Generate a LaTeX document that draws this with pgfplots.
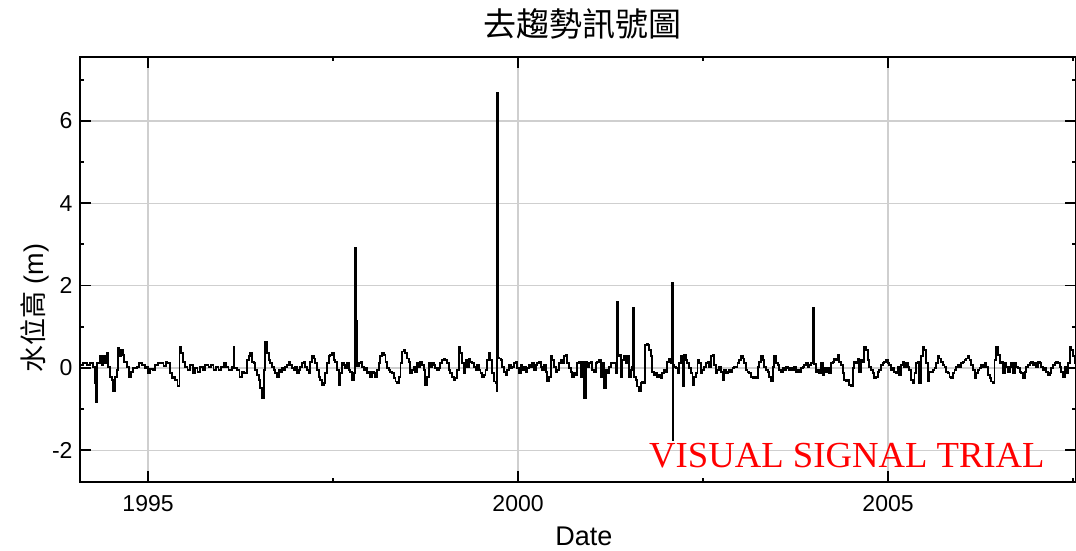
\documentclass[border=0pt]{standalone}
\usepackage{pgfplots}
\pgfplotsset{compat=1.18}
\usepackage{pgfplotstable}
\usepackage{fontspec}
\setmainfont{Liberation Sans}
\newfontfamily\cjk{Noto Sans CJK TC}
\newfontfamily\wmfont{Liberation Serif}
\pgfplotstableread{
t v
1994.080 0.07
1994.125 0.11
1994.170 0.07
1994.215 0.13
1994.260 0.02
1994.288 -0.37
1994.297 -0.82
1994.315 0.11
1994.351 0.28
1994.373 0.07
1994.396 0.28
1994.418 0.11
1994.441 0.37
1994.463 0.03
1994.486 -0.21
1994.509 -0.29
1994.531 -0.57
1994.554 -0.21
1994.576 -0.05
1994.590 0.48
1994.612 0.28
1994.630 0.44
1994.657 0.32
1994.675 0.15
1994.712 0.03
1994.743 -0.21
1994.766 -0.09
1994.802 -0.01
1994.847 0.03
1994.883 0.11
1994.915 0.07
1994.960 -0.01
1994.982 0.03
1995.005 -0.13
1995.027 -0.03
1995.063 -0.05
1995.095 0.07
1995.140 0.11
1995.172 0.13
1995.208 0.05
1995.244 0.15
1995.262 0.11
1995.298 -0.13
1995.321 -0.25
1995.343 -0.21
1995.366 -0.29
1995.397 -0.44
1995.424 0.52
1995.447 0.36
1995.469 0.15
1995.501 0.03
1995.533 -0.05
1995.569 0.07
1995.605 -0.13
1995.636 -0.01
1995.668 -0.09
1995.704 0.03
1995.740 -0.05
1995.772 0.07
1995.817 0.03
1995.853 0.07
1995.884 -0.05
1995.920 0.03
1995.952 -0.05
1995.984 0.03
1996.020 0.11
1996.056 0.03
1996.087 -0.05
1996.133 0.03
1996.155 0.52
1996.162 0.00
1996.169 -0.01
1996.200 -0.05
1996.236 -0.21
1996.268 -0.09
1996.299 -0.13
1996.313 -0.13
1996.336 0.19
1996.358 0.28
1996.381 0.36
1996.403 0.15
1996.426 0.11
1996.448 -0.05
1996.471 -0.17
1996.493 -0.29
1996.516 -0.49
1996.539 -0.74
1996.561 -0.05
1996.584 0.64
1996.606 0.36
1996.629 0.19
1996.651 0.11
1996.674 0.03
1996.697 -0.05
1996.719 -0.13
1996.742 -0.21
1996.764 -0.05
1996.787 -0.09
1996.809 -0.01
1996.832 -0.05
1996.854 0.03
1996.877 0.07
1996.900 0.15
1996.922 0.07
1996.945 -0.01
1996.967 -0.05
1996.990 0.03
1997.012 -0.13
1997.035 -0.05
1997.057 0.03
1997.080 0.11
1997.103 0.15
1997.125 0.03
1997.148 -0.05
1997.170 -0.13
1997.193 0.15
1997.215 0.28
1997.238 0.23
1997.260 0.11
1997.283 -0.05
1997.306 -0.21
1997.328 -0.29
1997.351 -0.41
1997.373 -0.37
1997.396 -0.13
1997.418 0.11
1997.441 0.28
1997.464 0.32
1997.486 0.36
1997.509 0.19
1997.531 0.15
1997.554 -0.05
1997.576 -0.41
1997.599 -0.13
1997.621 0.11
1997.644 0.07
1997.667 -0.01
1997.689 0.11
1997.712 -0.05
1997.734 -0.09
1997.757 -0.29
1997.779 -0.13
1997.796 2.91
1997.806 0.05
1997.818 1.14
1997.826 0.05
1997.847 0.11
1997.870 0.15
1997.892 0.03
1997.915 -0.05
1997.937 -0.01
1997.960 -0.13
1997.982 -0.09
1998.005 -0.21
1998.027 -0.09
1998.050 -0.13
1998.072 -0.21
1998.095 -0.05
1998.118 0.11
1998.140 0.28
1998.163 0.36
1998.185 0.32
1998.208 0.15
1998.230 -0.01
1998.253 -0.05
1998.275 -0.09
1998.298 -0.13
1998.321 -0.25
1998.343 -0.33
1998.366 -0.37
1998.388 -0.21
1998.411 0.11
1998.433 0.40
1998.456 0.44
1998.478 0.36
1998.501 0.23
1998.524 0.15
1998.545 -0.13
1998.568 -0.05
1998.590 0.03
1998.613 -0.09
1998.635 0.11
1998.658 0.03
1998.680 0.15
1998.703 0.07
1998.725 -0.05
1998.748 -0.41
1998.771 -0.21
1998.793 0.11
1998.816 0.03
1998.838 0.11
1998.861 0.07
1998.883 -0.01
1998.906 -0.05
1998.929 -0.01
1998.951 0.11
1998.974 0.19
1998.996 0.23
1999.019 0.19
1999.041 0.11
1999.064 -0.05
1999.086 -0.13
1999.109 -0.21
1999.132 -0.29
1999.154 -0.25
1999.177 -0.05
1999.199 0.52
1999.222 0.36
1999.244 0.11
1999.267 -0.13
1999.289 0.19
1999.312 0.03
1999.335 0.23
1999.357 0.15
1999.380 0.11
1999.402 0.03
1999.425 -0.05
1999.447 0.07
1999.470 -0.05
1999.493 -0.13
1999.515 -0.21
1999.538 -0.17
1999.560 -0.05
1999.583 0.19
1999.605 0.36
1999.628 0.19
1999.650 -0.13
1999.673 -0.33
1999.696 -0.37
1999.712 -0.55
1999.720 6.68
1999.730 0.25
1999.741 0.23
1999.764 0.19
1999.786 0.03
1999.809 -0.09
1999.831 -0.17
1999.854 -0.05
1999.876 0.07
1999.899 -0.01
1999.921 0.03
1999.944 0.11
1999.967 0.15
1999.989 -0.01
2000.012 -0.13
2000.034 0.07
2000.057 -0.05
2000.079 0.03
2000.102 -0.09
2000.124 -0.01
2000.147 0.07
2000.169 0.03
2000.192 0.11
2000.215 -0.05
2000.237 0.07
2000.260 0.11
2000.282 0.15
2000.305 0.03
2000.327 -0.05
2000.350 0.07
2000.373 -0.09
2000.395 -0.33
2000.418 -0.21
2000.440 0.28
2000.463 0.19
2000.485 0.03
2000.508 -0.09
2000.530 -0.05
2000.553 0.11
2000.576 0.19
2000.598 0.11
2000.621 0.28
2000.643 0.32
2000.666 0.11
2000.688 -0.01
2000.711 -0.09
2000.733 -0.21
2000.756 -0.13
2000.778 -0.17
2000.801 0.11
2000.823 0.15
2000.846 -0.21
2000.868 0.15
2000.891 -0.74
2000.913 0.15
2000.936 0.03
2000.958 0.11
2000.981 0.15
2001.004 -0.05
2001.026 -0.09
2001.049 0.11
2001.071 0.15
2001.094 0.19
2001.116 -0.21
2001.139 0.11
2001.161 -0.49
2001.184 -0.05
2001.207 -0.13
2001.229 0.03
2001.252 0.11
2001.274 0.13
2001.297 0.11
2001.319 -0.13
2001.338 1.60
2001.346 0.28
2001.364 0.32
2001.387 -0.21
2001.409 0.19
2001.432 0.28
2001.455 0.11
2001.477 0.28
2001.500 -0.21
2001.522 -0.05
2001.545 0.03
2001.554 1.46
2001.563 -0.21
2001.590 -0.29
2001.612 -0.45
2001.635 -0.57
2001.657 -0.37
2001.680 -0.33
2001.703 -0.37
2001.717 0.56
2001.735 0.58
2001.752 0.56
2001.770 0.44
2001.793 0.28
2001.815 -0.09
2001.838 -0.17
2001.861 -0.13
2001.883 -0.21
2001.906 -0.17
2001.928 -0.25
2001.951 -0.13
2001.973 -0.05
2001.996 -0.09
2002.018 0.15
2002.041 0.23
2002.064 0.11
2002.080 2.06
2002.088 -1.75
2002.096 0.07
2002.109 0.03
2002.131 -0.01
2002.154 -0.13
2002.177 0.11
2002.199 0.28
2002.222 -0.45
2002.244 0.32
2002.267 0.19
2002.289 0.11
2002.312 -0.01
2002.334 -0.13
2002.357 -0.41
2002.380 -0.21
2002.402 -0.13
2002.425 0.19
2002.447 0.11
2002.470 -0.13
2002.492 -0.05
2002.515 0.03
2002.537 0.11
2002.560 0.15
2002.583 0.03
2002.605 0.28
2002.628 0.32
2002.650 0.07
2002.673 -0.13
2002.695 -0.05
2002.718 0.03
2002.740 -0.09
2002.763 -0.29
2002.786 -0.05
2002.808 -0.13
2002.831 -0.09
2002.853 -0.05
2002.876 -0.09
2002.898 -0.01
2002.921 0.03
2002.943 0.03
2002.966 0.11
2002.988 0.19
2003.011 0.28
2003.034 0.23
2003.056 0.11
2003.079 -0.05
2003.101 -0.09
2003.124 -0.13
2003.146 -0.21
2003.169 -0.25
2003.191 -0.21
2003.214 -0.25
2003.237 0.03
2003.259 0.15
2003.282 0.28
2003.304 0.19
2003.327 0.03
2003.349 -0.05
2003.372 -0.09
2003.394 -0.21
2003.417 -0.33
2003.440 0.03
2003.462 0.28
2003.485 0.11
2003.507 0.07
2003.530 -0.05
2003.552 -0.09
2003.575 -0.01
2003.598 -0.05
2003.620 0.03
2003.643 -0.01
2003.665 -0.05
2003.688 -0.01
2003.710 -0.05
2003.733 0.03
2003.755 -0.09
2003.778 -0.05
2003.800 -0.09
2003.823 -0.01
2003.846 0.03
2003.868 0.07
2003.891 0.11
2003.913 0.03
2003.936 0.07
2003.958 0.11
2003.981 0.15
2003.990 1.46
2003.998 0.10
2004.026 -0.09
2004.049 -0.05
2004.071 -0.13
2004.094 0.11
2004.116 -0.17
2004.139 -0.01
2004.161 -0.09
2004.184 -0.01
2004.207 -0.13
2004.229 0.11
2004.252 0.15
2004.274 0.23
2004.297 0.19
2004.319 0.32
2004.342 0.15
2004.364 0.07
2004.387 -0.13
2004.409 -0.29
2004.432 -0.33
2004.454 -0.29
2004.477 -0.41
2004.500 -0.45
2004.522 -0.01
2004.545 0.15
2004.567 0.11
2004.590 0.23
2004.612 -0.09
2004.635 0.19
2004.657 0.15
2004.680 0.52
2004.702 0.44
2004.725 0.19
2004.748 0.03
2004.770 -0.05
2004.793 -0.13
2004.815 -0.25
2004.838 -0.21
2004.860 -0.09
2004.883 -0.05
2004.905 0.07
2004.928 0.11
2004.950 0.15
2004.973 0.19
2004.995 0.11
2005.018 0.07
2005.041 -0.05
2005.063 -0.01
2005.086 -0.09
2005.108 -0.13
2005.131 0.03
2005.153 -0.17
2005.176 0.07
2005.198 0.15
2005.221 0.03
2005.244 0.11
2005.267 0.03
2005.289 -0.05
2005.312 -0.29
2005.334 -0.37
2005.357 -0.13
2005.379 0.11
2005.402 0.15
2005.424 -0.37
2005.447 0.28
2005.470 0.52
2005.492 0.44
2005.515 0.11
2005.537 -0.33
2005.560 -0.09
2005.582 -0.09
2005.605 -0.05
2005.627 -0.01
2005.650 0.11
2005.673 0.28
2005.695 0.23
2005.718 0.15
2005.740 0.07
2005.763 0.03
2005.785 -0.09
2005.808 -0.13
2005.830 -0.21
2005.853 -0.25
2005.876 -0.13
2005.898 -0.05
2005.921 0.03
2005.943 0.07
2005.966 0.03
2005.988 0.11
2006.011 0.15
2006.033 0.19
2006.056 0.23
2006.079 0.28
2006.101 0.19
2006.124 0.07
2006.146 -0.05
2006.169 -0.25
2006.191 -0.13
2006.214 -0.05
2006.236 -0.01
2006.259 0.07
2006.282 0.03
2006.304 0.11
2006.327 0.03
2006.349 -0.17
2006.372 -0.25
2006.394 -0.33
2006.417 -0.37
2006.439 0.19
2006.462 0.52
2006.485 0.32
2006.507 0.11
2006.530 0.15
2006.552 -0.13
2006.575 0.11
2006.597 0.03
2006.620 -0.09
2006.642 0.03
2006.665 0.11
2006.688 -0.13
2006.710 0.11
2006.733 0.03
2006.755 -0.01
2006.778 -0.09
2006.800 -0.13
2006.823 -0.25
2006.845 -0.09
2006.868 0.03
2006.891 0.07
2006.913 0.11
2006.936 0.15
2006.958 0.07
2006.981 0.11
2007.003 0.03
2007.026 0.15
2007.048 0.11
2007.071 0.03
2007.094 -0.05
2007.116 -0.01
2007.139 -0.09
2007.161 -0.17
2007.184 -0.13
2007.206 -0.01
2007.229 0.07
2007.251 0.11
2007.274 0.15
2007.297 0.11
2007.319 0.03
2007.342 -0.09
2007.364 -0.21
2007.387 0.03
2007.409 -0.13
2007.432 0.11
2007.454 0.52
2007.477 0.44
2007.499 0.28
2007.522 0.11
2007.540 -0.33
}\signal
\begin{document}
\begin{tikzpicture}
\begin{axis}[
  width=996pt, height=425pt, scale only axis,
  xmin=1994.08, xmax=2007.54, ymin=-2.77, ymax=7.55,
  xtick={1995,2000,2005}, xticklabels={1995,2000,2005},
  minor xtick={1997.5,2002.5,2007.5},
  ytick={-2,0,2,4,6}, minor ytick={-1,1,3,5,7},
  tick align=inside, major tick length=11pt, minor tick length=4pt,
  every tick/.style={black, line width=1.8pt},
  grid=major, major grid style={line width=1.4pt, color=gray!38},
  axis line style={line width=1.8pt},
  /pgf/number format/assume math mode=true,
  tick label style={font=\fontsize{23}{23}\selectfont},
  xticklabel style={yshift=-10pt},
  yticklabel style={xshift=-4pt},
  title={\cjk 去趨勢訊號圖},
  title style={font=\fontsize{33}{33}\selectfont, at={(axis description cs:0.505,1.0635)}, anchor=center},
  xlabel={Date},
  xlabel style={font=\fontsize{27}{27}\selectfont, at={(axis description cs:0.506,-0.129)}, anchor=center},
  ylabel={{\cjk 水位高} (m)},
  ylabel style={font=\fontsize{27}{27}\selectfont, at={(axis description cs:-0.0452,0.409)}, anchor=center, rotate=0},
]
\addplot[const plot, black, line width=1.9pt] table[x=t, y=v] {\signal};
\node[font=\wmfont\fontsize{36.7}{36.7}\selectfont, text=red, anchor=base, inner sep=0pt] at (axis description cs:0.770,0.035) {VISUAL SIGNAL TRIAL};
\end{axis}
\pgfresetboundingbox
\path ([shift={(-80pt,-68pt)}]current axis.south west) rectangle ([shift={(996pt,482pt)}]current axis.south west);
\end{tikzpicture}
\end{document}
